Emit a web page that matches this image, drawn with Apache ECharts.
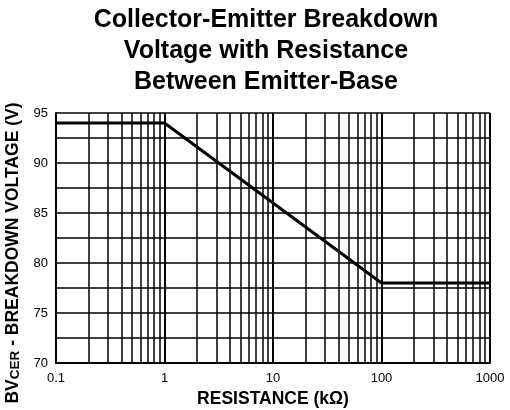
<!DOCTYPE html>
<html>
<head>
<meta charset="utf-8">
<script src="https://cdn.jsdelivr.net/npm/echarts@6/dist/echarts.min.js"></script>
<style>html,body{margin:0;padding:0;background:#fff}#c{width:510px;height:410px}</style>
</head>
<body>
<div id="c"></div>
<script>
const resistance = [0.1, 1, 100, 1000];
const voltage = [94, 94, 78, 78];
const minorGridX = [0.2,0.3,0.4,0.5,0.6,0.7,0.8,0.9, 2,3,4,5,6,7,8,9, 20,30,40,50,60,70,80,90, 200,300,400,500,600,700,800,900];
const yTicks = [70, 75, 80, 85, 90, 95];
const xTicks = [0.1, 1, 10, 100, 1000];

const FONT = '"Liberation Sans", Arial, sans-serif';
const chart = echarts.init(document.getElementById('c'), null, {renderer: 'canvas'});
chart.setOption({
  animation: false,
  title: {
    text: 'Collector-Emitter Breakdown\nVoltage with Resistance\nBetween Emitter-Base',
    left: 261, top: 0, textAlign: 'center',
    textStyle: {fontFamily: FONT, fontSize: 25, fontWeight: 'bold', color: '#000', lineHeight: 31}
  },
  grid: {left: 56, right: 20, top: 113, bottom: 47, containLabel: false, outerBoundsMode: 'none'},
  xAxis: {
    type: 'log', logBase: 10, min: xTicks[0], max: xTicks[xTicks.length-1],
    name: 'RESISTANCE (kΩ)', nameLocation: 'middle', nameGap: 23,
    nameTextStyle: {fontFamily: FONT, fontSize: 17.5, fontWeight: 'bold', color: '#000'},
    axisLine: {show: true, lineStyle: {color: '#000', width: 2}},
    axisTick: {show: false},
    axisLabel: {fontFamily: FONT, fontSize: 13, color: '#000', margin: 9,
      formatter: v => String(parseFloat(Number(v).toPrecision(3)))},
    splitLine: {show: true, lineStyle: {color: '#000', width: 2}}
  },
  yAxis: {
    type: 'value', min: yTicks[0], max: yTicks[yTicks.length-1], interval: 5,
    name: '{a|BV}{s|CER}{a| - BREAKDOWN VOLTAGE (V)}', nameLocation: 'middle', nameGap: 22, nameRotate: 90,
    nameTextStyle: {fontFamily: FONT, fontSize: 17.5, fontWeight: 'bold', color: '#000', padding: [0, 30, 0, 0],
      rich: {
        a: {fontFamily: FONT, fontSize: 17.5, fontWeight: 'bold', color: '#000'},
        s: {fontFamily: FONT, fontSize: 13.5, fontWeight: 'bold', color: '#000', padding: [4, 0, 0, 0]}
      }},
    axisLine: {show: true, lineStyle: {color: '#000', width: 2}},
    axisTick: {show: false},
    axisLabel: {fontFamily: FONT, fontSize: 13, color: '#000', margin: 8},
    splitLine: {show: true, lineStyle: {color: '#000', width: 1.5}},
    minorTick: {show: false, splitNumber: 2},
    minorSplitLine: {show: true, lineStyle: {color: '#000', width: 1.5}}
  },
  series: [{
    type: 'line',
    data: resistance.map((r, i) => [r, voltage[i]]),
    symbol: 'none',
    lineStyle: {color: '#000', width: 3},
    z: 5,
    markLine: {
      silent: true, symbol: 'none', animation: false,
      label: {show: false},
      lineStyle: {color: '#000', width: 1.5, type: 'solid'},
      data: minorGridX.map(v => ({xAxis: v}))
    }
  }]
});
</script>
</body>
</html>
